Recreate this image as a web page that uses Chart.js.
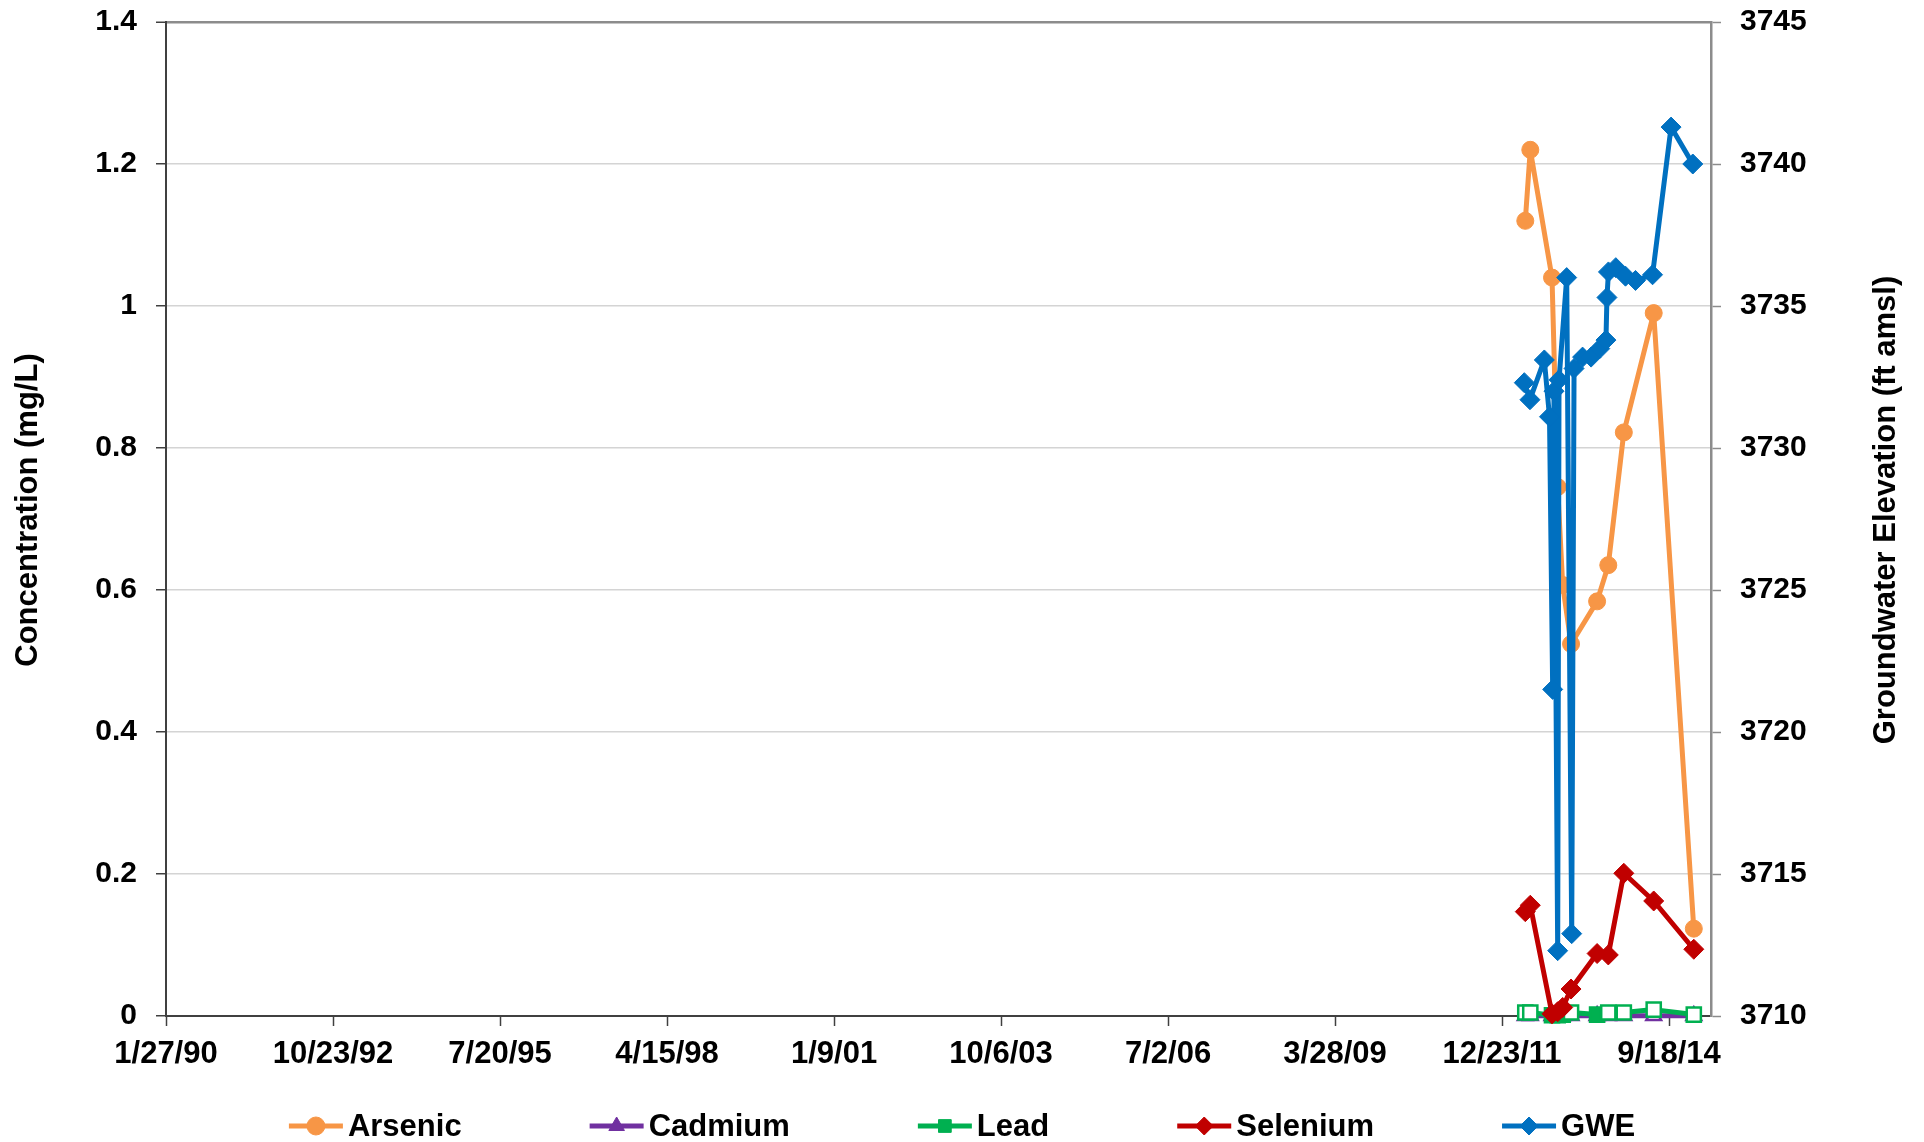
<!DOCTYPE html>
<html><head><meta charset="utf-8">
<script src="https://cdn.jsdelivr.net/npm/chart.js@4"></script>
<style>html,body{margin:0;padding:0;background:#fff}#wrap{width:1924px;height:1142px}</style>
</head><body><div id="wrap"><canvas id="c" width="1924" height="1142"></canvas></div>
<script>
// ---- data ----
const chemDates = ['2012-05-10','2012-06-09','2012-10-17','2012-11-20','2012-12-20','2013-02-08','2013-07-14','2013-09-19','2013-12-21','2014-06-18','2015-02-13'];
const arsenic  = [1.12, 1.22, 1.04, 0.745, 0.607, 0.524, 0.584, 0.635, 0.822, 0.99, 0.123];
const cadmium  = [0.0005, 0.0005, 0.0005, 0.0005, 0.0005, 0.0005, 0.0005, 0.0005, 0.0005, 0.0005, 0.0005];
const lead     = [0.005, 0.005, 0.001, 0.001, 0.002, 0.005, 0.002, 0.005, 0.005, 0.009, 0.002];
const leadDetected = [false, false, true, true, true, false, true, false, false, false, false];
const selenium = [0.147, 0.156, 0.003, 0.006, 0.012, 0.038, 0.088, 0.086, 0.201, 0.162, 0.094];
const gweDates = ['2012-05-04','2012-06-07','2012-09-01','2012-10-02','2012-10-21','2012-10-29','2012-11-20','2012-11-28','2013-01-13','2013-02-12','2013-02-26','2013-04-18','2013-06-08','2013-07-30','2013-09-05','2013-09-11','2013-09-20','2013-11-03','2013-12-31','2014-03-01','2014-06-11','2014-09-30','2015-02-07'];
const gwe = [3732.3, 3731.7, 3733.1, 3731.1, 3721.5, 3732.0, 3712.3, 3732.4, 3736.0, 3712.9, 3732.8, 3733.2, 3733.2, 3733.5, 3733.8, 3735.3, 3736.2, 3736.35, 3736.05, 3735.9, 3736.1, 3741.3, 3740.0];
const seriesNames = ['Arsenic', 'Cadmium', 'Lead', 'Selenium', 'GWE'];
const leftTitle = 'Concentration (mg/L)';
const rightTitle = 'Groundwater Elevation (ft amsl)';
const xAxisStart = '1990-01-27';
const xTickStepDays = 1000;
const xTickCount = 10;
const xAxisEndDays = 9251;

// ---- helpers ----
const BASE = Date.parse(xAxisStart + 'T00:00:00Z');
const DAY = 86400000;
const dayNum = s => (Date.parse(s + 'T00:00:00Z') - BASE) / DAY;
const fmtDate = v => { const d = new Date(BASE + v * DAY); return (d.getUTCMonth()+1) + '/' + d.getUTCDate() + '/' + String(d.getUTCFullYear()).slice(-2); };
const pts = (dates, vals) => dates.map((d, i) => ({x: dayNum(d), y: vals[i]}));

Chart.defaults.font.family = '"Liberation Sans", Arial, Helvetica, sans-serif';
Chart.defaults.font.weight = 'bold';
Chart.defaults.color = '#000';

const FONT_TICK = {size: 30, weight: 'bold'};

const decorPlugin = {
  id: 'decor',
  afterDraw(chart) {
    const ctx = chart.ctx;
    const ds = chart.data.datasets;
    const area = chart.chartArea;
    ctx.save();
    ctx.font = 'bold 31px "Liberation Sans", Arial, sans-serif';
    ctx.fillStyle = '#000';
    // axis titles (both read bottom-to-top)
    ctx.textAlign = 'center'; ctx.textBaseline = 'middle';
    const midY = (area.top + area.bottom) / 2 - 9;
    ctx.save(); ctx.translate(28, midY); ctx.rotate(-Math.PI / 2); ctx.fillText(leftTitle, 0, 0); ctx.restore();
    ctx.save(); ctx.translate(1886, midY); ctx.rotate(-Math.PI / 2); ctx.fillText(rightTitle, 0, 0); ctx.restore();
    // legend
    const lineLen = 54, gapText = 5, gapItem = 128;
    const widths = ds.map(d => lineLen + gapText + ctx.measureText(d.label).width);
    const total = widths.reduce((a, b) => a + b, 0) + gapItem * (ds.length - 1);
    let x = (chart.width - total) / 2;
    const y = 1126;
    ds.forEach((d, i) => {
      ctx.strokeStyle = d.borderColor; ctx.lineWidth = 5;
      ctx.beginPath(); ctx.moveTo(x, y); ctx.lineTo(x + lineLen, y); ctx.stroke();
      ctx.fillStyle = d.borderColor; ctx.lineWidth = 1;
      Chart.helpers.drawPoint(ctx, {pointStyle: d.pointStyle, rotation: 0, radius: 9, borderWidth: 1}, x + lineLen / 2, y);
      ctx.fillStyle = '#000'; ctx.textBaseline = 'middle'; ctx.textAlign = 'left';
      ctx.fillText(d.label, x + lineLen + gapText, y + 1);
      x += widths[i] + gapItem;
    });
    ctx.restore();
  }
};

const common = {fill: false, tension: 0, borderWidth: 5, clip: false, pointHoverRadius: 10, borderJoinStyle: 'round', borderCapStyle: 'round'};
const noPad = s => { s.paddingTop = 0; s.paddingBottom = 0; };

new Chart(document.getElementById('c'), {
  type: 'line',
  data: {
    datasets: [
      Object.assign({}, common, {label: seriesNames[0], data: pts(chemDates, arsenic), borderColor: '#F79646', backgroundColor: '#F79646',
        pointStyle: 'circle', pointRadius: 8.5, pointBorderWidth: 1, pointBackgroundColor: '#F79646', yAxisID: 'y', order: 5}),
      Object.assign({}, common, {label: seriesNames[1], data: pts(chemDates, cadmium), borderColor: '#7030A0', backgroundColor: '#7030A0',
        pointStyle: 'triangle', pointRadius: 8.5, pointBorderWidth: 2.5, pointBackgroundColor: '#ffffff', yAxisID: 'y', order: 4}),
      Object.assign({}, common, {label: seriesNames[2], data: pts(chemDates, lead), borderColor: '#00B050', backgroundColor: '#00B050',
        pointStyle: 'rect', pointRadius: 10, pointBorderWidth: 2.5, pointBackgroundColor: leadDetected.map(f => f ? '#00B050' : '#ffffff'), yAxisID: 'y', order: 3}),
      Object.assign({}, common, {label: seriesNames[3], data: pts(chemDates, selenium), borderColor: '#C00000', backgroundColor: '#C00000',
        pointStyle: 'rectRot', pointRadius: 10, pointBorderWidth: 1, pointBackgroundColor: '#C00000', yAxisID: 'y', order: 2}),
      Object.assign({}, common, {label: seriesNames[4], data: pts(gweDates, gwe), borderColor: '#0070C0', backgroundColor: '#0070C0',
        pointStyle: 'rectRot', pointRadius: 10, pointBorderWidth: 1, pointBackgroundColor: '#0070C0', yAxisID: 'y2', order: 1})
    ]
  },
  options: {
    responsive: false,
    animation: false,
    layout: {padding: {top: 22, left: 0, right: 0, bottom: 0}},
    plugins: {legend: {display: false}, tooltip: {enabled: false}},
    scales: {
      x: {
        type: 'linear', position: 'bottom', min: 0, max: xAxisEndDays,
        afterFit: s => { s.height = 126; s.paddingLeft = 0; s.paddingRight = 0; },
        afterBuildTicks: s => { s.ticks = Array.from({length: xTickCount}, (_, i) => ({value: i * xTickStepDays})); },
        ticks: {autoSkip: false, maxRotation: 0, minRotation: 0,
          font: {size: 31, weight: 'bold'}, padding: 10, callback: v => fmtDate(v)},
        grid: {drawOnChartArea: false, drawTicks: true, tickLength: 10, tickColor: '#404040', tickWidth: 1.5},
        border: {display: true, color: '#404040', width: 2}
      },
      y: {
        position: 'left', min: 0, max: 1.4,
        afterFit: s => { s.width = 166; noPad(s); },
        ticks: {stepSize: 0.2, includeBounds: false, font: FONT_TICK, padding: 19, callback: v => String(Math.round(v * 10) / 10)},
        grid: {drawOnChartArea: true, tickLength: 10, tickColor: '#404040', tickWidth: 1.5,
          color: c => Math.abs(c.tick.value - 1.4) < 1e-6 ? '#8c8c8c' : '#d4d4d4',
          lineWidth: c => Math.abs(c.tick.value - 1.4) < 1e-6 ? 2.5 : 1.5},
        border: {display: true, color: '#404040', width: 2}
      },
      y2: {
        position: 'right', min: 3710, max: 3745,
        afterFit: s => { s.width = 213; noPad(s); },
        ticks: {stepSize: 5, includeBounds: false, font: FONT_TICK, padding: 19, callback: v => String(v)},
        grid: {drawOnChartArea: false, tickLength: 10, tickColor: '#8c8c8c', tickWidth: 1.5},
        border: {display: true, color: '#8c8c8c', width: 2.5}
      }
    }
  },
  plugins: [decorPlugin]
});
</script>
</body></html>
